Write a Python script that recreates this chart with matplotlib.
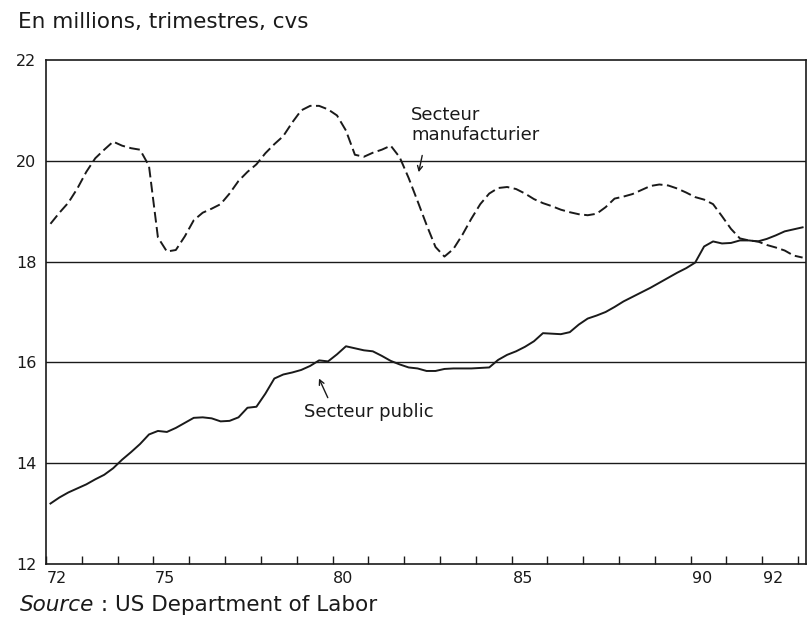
import numpy as np
import matplotlib
matplotlib.use("Agg")
import matplotlib.pyplot as plt
from matplotlib.transforms import ScaledTranslation

# ----------------------------------------------------------------
# quarterly series, 1972Q1 .. 1993Q1 (millions, s.a.)

start_year = 72
n_quarters = 85

manuf = [18.75, 18.97, 19.17, 19.45, 19.78, 20.05, 20.22, 20.38, 20.30, 20.25,
         20.22, 19.90, 18.48, 18.20, 18.23, 18.50, 18.82, 18.97, 19.05, 19.14,
         19.35, 19.60, 19.78, 19.93, 20.15, 20.33, 20.49, 20.76, 21.00, 21.09,
         21.09, 21.02, 20.90, 20.60, 20.12, 20.08, 20.16, 20.22, 20.30, 20.07,
         19.66, 19.20, 18.73, 18.29, 18.10, 18.25, 18.53, 18.85, 19.14, 19.35,
         19.46, 19.48, 19.44, 19.35, 19.24, 19.16, 19.10, 19.03, 18.98, 18.94,
         18.92, 18.95, 19.08, 19.25, 19.29, 19.34, 19.42, 19.50, 19.53, 19.51,
         19.45, 19.37, 19.28, 19.23, 19.14, 18.90, 18.65, 18.46, 18.42, 18.40,
         18.33, 18.28, 18.22, 18.12, 18.08]

public = [13.20, 13.32, 13.42, 13.50, 13.58, 13.68, 13.77, 13.90, 14.07, 14.22,
          14.38, 14.57, 14.64, 14.62, 14.70, 14.80, 14.90, 14.91, 14.89, 14.83,
          14.84, 14.91, 15.10, 15.12, 15.38, 15.68, 15.76, 15.80, 15.85, 15.93,
          16.04, 16.02, 16.16, 16.32, 16.28, 16.24, 16.22, 16.13, 16.03, 15.96,
          15.90, 15.88, 15.83, 15.83, 15.87, 15.88, 15.88, 15.88, 15.89, 15.90,
          16.05, 16.15, 16.22, 16.31, 16.42, 16.58, 16.57, 16.56, 16.60, 16.75,
          16.87, 16.93, 17.00, 17.10, 17.21, 17.30, 17.39, 17.48, 17.58, 17.68,
          17.78, 17.87, 17.98, 18.30, 18.40, 18.36, 18.37, 18.42, 18.42, 18.40,
          18.45, 18.52, 18.60, 18.64, 18.68]

year_ticks = list(range(72, 94))
year_labels = {72: "72", 75: "75", 80: "80", 85: "85", 90: "90", 92: "92"}
y_ticks = [12, 14, 16, 18, 20, 22]

title_txt = "En millions, trimestres, cvs"
label_manuf = "Secteur\nmanufacturier"
label_public = "Secteur public"
source_txt = "Source"
source_rest = " : US Department of Labor"

# ----------------------------------------------------------------

ink = "#1a1a1a"
plt.rcParams['font.family'] = ['DejaVu Sans']

t = start_year + 0.125 + 0.25 * np.arange(n_quarters)

fig = plt.figure(figsize=(8.09, 6.19), dpi=100)
ax = fig.add_axes([46 / 809, 1 - 564 / 619, 760 / 809, 504 / 619])

for yv in [14, 16, 18, 20]:
        ax.axhline(yv, color=ink, lw=1.0, zorder=1)

ax.plot(t, manuf, color=ink, lw=1.4, linestyle=(0, (5.5, 2.3)), zorder=3)
ax.plot(t, public, color=ink, lw=1.4, zorder=3)

ax.set_xlim(72, 93.22)
ax.set_ylim(12, 22)

ax.set_xticks(year_ticks)
ax.set_xticklabels([year_labels.get(y, "") for y in year_ticks])
ax.set_yticks(y_ticks)
ax.set_yticklabels([str(v) for v in y_ticks])
ax.tick_params(axis='x', direction='in', length=6, width=1.0, color=ink,
               pad=5, labelsize=11.5, labelcolor=ink)
ax.tick_params(axis='y', length=0, pad=7, labelsize=11.5, labelcolor=ink)
# year labels sit a bit to the right of their tick
for lab in ax.get_xticklabels():
        lab.set_transform(lab.get_transform() + ScaledTranslation(0.11, 0, fig.dpi_scale_trans))
for lab in ax.get_xticklabels() + ax.get_yticklabels():
        lab.set_fontweight('medium')

for sp in ax.spines.values():
        sp.set_color(ink)
        sp.set_linewidth(1.2)

# annotations
ax.text(82.2, 20.71, label_manuf, fontsize=13, color=ink, ha='left', va='center', linespacing=1.1)
ax.annotate("", xy=(82.39, 19.72), xytext=(82.52, 20.16),
            arrowprops=dict(arrowstyle='->,head_length=0.35,head_width=0.18', color=ink, lw=1.0))
ax.text(79.21, 15.02, label_public, fontsize=13, color=ink, ha='left', va='center')
ax.annotate("", xy=(79.59, 15.73), xytext=(79.9, 15.25),
            arrowprops=dict(arrowstyle='->,head_length=0.35,head_width=0.18', color=ink, lw=1.0))

fig.text(18 / 809, 1 - 22 / 619, title_txt, fontsize=15.5, color=ink, ha='left', va='center')
src = fig.text(20 / 809, 1 - 605 / 619, source_txt, fontsize=15.5, color=ink, style='italic',
               ha='left', va='center')
ax.annotate(source_rest, xy=(1, 0), xycoords=src, fontsize=15.5, color=ink,
            ha='left', va='bottom', annotation_clip=False)

fig.savefig("out.png", dpi=100)
plt.close()
